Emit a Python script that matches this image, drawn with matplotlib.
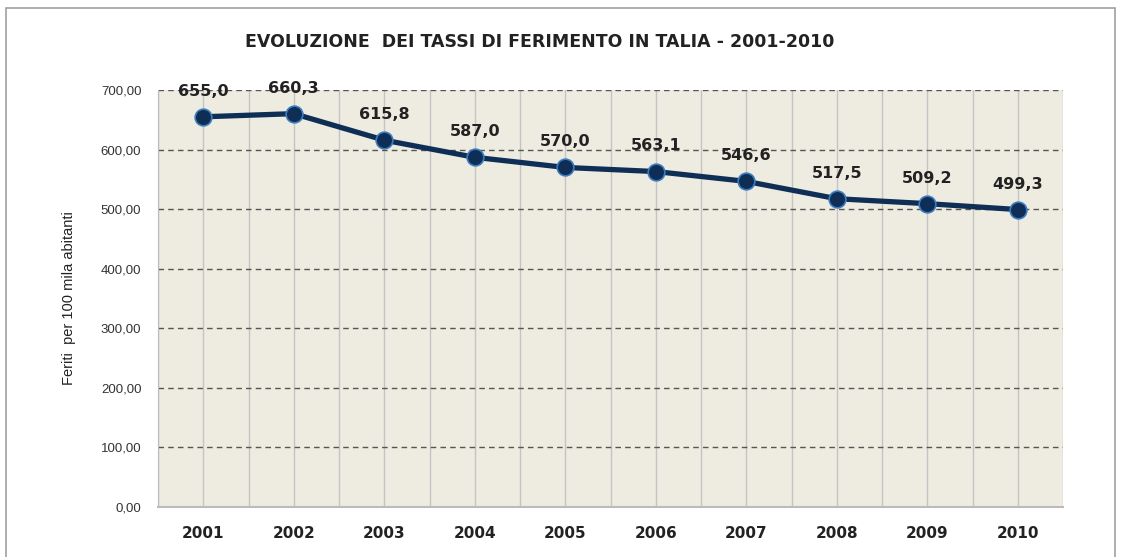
import matplotlib.pyplot as plt
import numpy as np
from matplotlib.patches import Rectangle

years = ['2001', '2002', '2003', '2004', '2005', '2006', '2007', '2008', '2009', '2010']
tassi = [655.0, 660.3, 615.8, 587.0, 570.0, 563.1, 546.6, 517.5, 509.2, 499.3]
y_ticks = [0, 100, 200, 300, 400, 500, 600, 700]

fig = plt.figure(figsize=(11.23, 5.57), dpi=100)
ax = fig.add_axes([158 / 1123, 1 - 507 / 557, 905 / 1123, 417 / 557])

# cornice esterna
fig.patches.append(Rectangle((6 / 1123, -0.01), 1109 / 1123, 1 - 8 / 557 + 0.01,
                             transform=fig.transFigure, fill=False,
                             edgecolor='#a0a0a0', linewidth=1.2))

x = np.arange(len(years))
ax.set_facecolor('#eeebe0')
ax.set_xlim(-0.5, len(years) - 0.5)
ax.set_ylim(0, 700)

# griglia verticale ogni mezza categoria
for v in np.arange(-0.5, len(years), 0.5):
    ax.axvline(v, color='#c4c4c4', linewidth=1.0, zorder=1)
for t in y_ticks[1:]:
    ax.axhline(t, color='#555555', linewidth=1.0, linestyle=(0, (4, 3)), zorder=1)

ax.plot(x, tassi, color='#0e2e55', linewidth=3.8, marker='o', markersize=12,
        markerfacecolor='#0e2e55', markeredgecolor='#3b7cc0', markeredgewidth=1.2, zorder=3)

for xi, v in zip(x, tassi):
    ax.annotate(f'{v:.1f}'.replace('.', ','), (xi, v), xytext=(0, 13),
                textcoords='offset points', ha='center', va='bottom',
                fontsize=11.5, fontweight='bold', color='#222222')

ax.set_xticks(x)
ax.set_xticklabels(years, fontsize=11, fontweight='bold', color='#222222')
ax.set_yticks(y_ticks)
ax.set_yticklabels([f'{t:.2f}'.replace('.', ',') for t in y_ticks], fontsize=9.5,
                   color='#333333', family='Liberation Sans')
ax.tick_params(axis='both', length=0)
ax.tick_params(axis='x', pad=14)
ax.tick_params(axis='y', pad=12)

for s in ['top', 'right']:
    ax.spines[s].set_visible(False)
ax.spines['left'].set_color('#bbbbbb')
ax.spines['bottom'].set_color('#bbbbbb')
ax.spines['bottom'].set_linewidth(1.5)

ax.set_ylabel('Feriti  per 100 mila abitanti', fontsize=10.5, color='#222222',
              family='Liberation Sans', labelpad=18)

fig.text(540 / 1123, 1 - 42 / 557, 'EVOLUZIONE  DEI TASSI DI FERIMENTO IN TALIA - 2001-2010',
         ha='center', va='center', fontsize=12.5, fontweight='bold', color='#222222')

fig.savefig('out.png', dpi=100)
